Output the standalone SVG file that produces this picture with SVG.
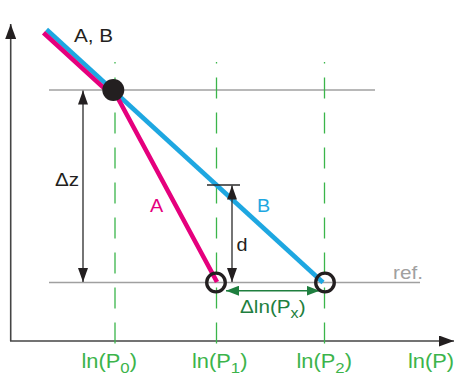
<svg xmlns="http://www.w3.org/2000/svg" width="469" height="375" viewBox="0 0 469 375">
<style>
text{font-family:"Liberation Sans",Arial,sans-serif;font-size:18px}
.ax{stroke:#444;stroke-width:1.6;fill:none}
.gl{stroke:#a0a0a0;stroke-width:1.3;fill:none}
.gd{stroke:#3ab54a;stroke-width:1.3;fill:none;stroke-dasharray:21 14;stroke-dashoffset:19.5}
.dim{stroke:#2a2a2a;stroke-width:1.3;fill:none}
.lab{fill:#3cb44b;font-size:19.5px}
</style>
<defs>
<marker id="ah" viewBox="0 0 14 10" refX="14" refY="5" markerWidth="14" markerHeight="10" markerUnits="userSpaceOnUse" orient="auto-start-reverse"><path d="M0,0 L14,5 L0,10 Z" fill="#231f20"/></marker>
<marker id="ahg" viewBox="0 0 13 10" refX="13" refY="5" markerWidth="13" markerHeight="10" markerUnits="userSpaceOnUse" orient="auto-start-reverse"><path d="M0,0 L13,5 L0,10 Z" fill="#1f7f3f"/></marker>
<marker id="axh" viewBox="0 0 15 11" refX="15" refY="5.5" markerWidth="15" markerHeight="11" markerUnits="userSpaceOnUse" orient="auto"><path d="M0,0 L15,5.5 L0,11 Z" fill="#231f20"/></marker>
</defs>
<g id="axes">
<path class="ax" d="M10.7,341 L10.7,24" marker-end="url(#axh)"/>
<path class="ax" d="M10,341 L454,341" marker-end="url(#axh)"/>
</g>
<g id="guides">
<path class="gl" d="M49,90 L375,90"/>
<path class="gl" d="M49,282.5 L420,282.5"/>
<path class="gd" d="M115,62 L115,346"/>
<path class="gd" d="M216.5,62 L216.5,346"/>
<path class="gd" d="M324.5,62 L324.5,346"/>
</g>
<g id="connectors">
<path id="lineB" d="M46.5,29.5 L323,282.5" stroke="#1ea7e1" stroke-width="4.6" fill="none"/>
<path id="lineA" d="M43.5,32.8 L113,96.4 M113.5,90 L217,282" stroke="#e5007d" stroke-width="4.6" fill="none"/>
<path class="dim" d="M83,90.5 L83,282" marker-start="url(#ah)" marker-end="url(#ah)"/>
<path class="dim" d="M207,185 L240,185"/>
<path class="dim" d="M232,185.5 L232,282" marker-start="url(#ah)" marker-end="url(#ah)"/>
<path d="M226,290.7 L319.5,290.7" stroke="#1f7f3f" stroke-width="1.4" fill="none" marker-start="url(#ahg)" marker-end="url(#ahg)"/>
</g>
<g id="nodeAB"><circle cx="113.3" cy="90" r="11" fill="#231f20"/></g>
<g id="nodeP1"><circle cx="216" cy="282.5" r="9.3" fill="none" stroke="#231f20" stroke-width="3.3"/></g>
<g id="nodeP2"><circle cx="325" cy="282.5" r="9.3" fill="none" stroke="#231f20" stroke-width="3.3"/></g>
<g id="labels">
<text transform="translate(74,41.7) scale(1.15,1)" fill="#231f20">A,  B</text>
<text transform="translate(55,185.5) scale(1.15,1)" fill="#231f20">Δz</text>
<text transform="translate(150,211.5) scale(1.1,1)" fill="#e5007d">A</text>
<text transform="translate(257,211.5) scale(1.1,1)" fill="#1ea7e1">B</text>
<text transform="translate(236.5,251) scale(1.1,1)" fill="#231f20">d</text>
<text transform="translate(393,279.3) scale(1.15,1)" fill="#a0a0a0">ref.</text>
<text transform="translate(240,313) scale(1.15,1)" fill="#1f7f3f">Δln(P<tspan font-size="14" dy="4.5">x</tspan><tspan dy="-4.5">)</tspan></text>
<text class="lab" transform="translate(81.5,368) scale(1.12,1)">ln(P<tspan font-size="15" dy="4.5">0</tspan><tspan dy="-4.5">)</tspan></text>
<text class="lab" transform="translate(192,368) scale(1.12,1)">ln(P<tspan font-size="15" dy="4.5">1</tspan><tspan dy="-4.5">)</tspan></text>
<text class="lab" transform="translate(296.5,368) scale(1.12,1)">ln(P<tspan font-size="15" dy="4.5">2</tspan><tspan dy="-4.5">)</tspan></text>
<text class="lab" transform="translate(408,368) scale(1.12,1)">ln(P)</text>
</g>
</svg>
